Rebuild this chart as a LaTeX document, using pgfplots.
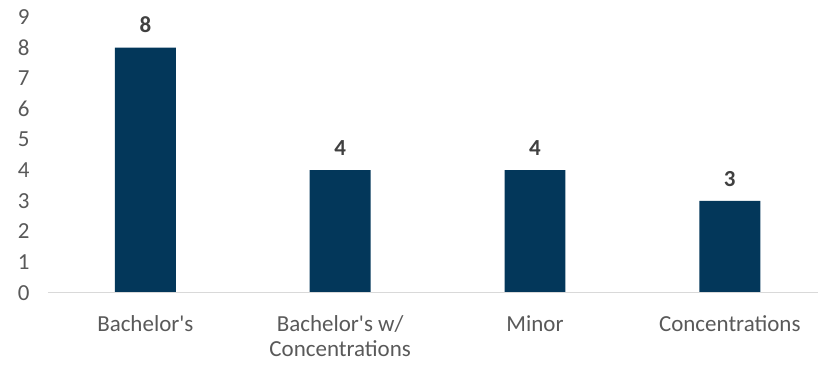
\documentclass[border=0pt]{standalone}
\usepackage{fontspec}
\setmainfont{Carlito}[Ligatures=TeXOff]
\usepackage{pgfplots}
\pgfplotsset{compat=1.18}
\definecolor{barblue}{HTML}{03375A}
\definecolor{ticktxt}{HTML}{595959}
\definecolor{lbltxt}{HTML}{404040}
\definecolor{axgray}{HTML}{D9D9D9}
\begin{document}
\begin{tikzpicture}
\begin{axis}[
  scale only axis,
  width=771pt, height=276pt,
  xmin=-0.5, xmax=3.454,
  ymin=0, ymax=9,
  ytick={0,1,...,9},
  xtick={0,1,2,3},
  xticklabels={Bachelor's,{Bachelor's w/\\Concentrations},Minor,Concentrations},
  axis line style={draw=none},
  axis x line*=bottom,
  axis y line*=left,
  major tick length=0pt,
  /pgf/number format/assume math mode=true,
  font=\fontsize{23}{25}\selectfont,
  ticklabel style={text=ticktxt, font=\fontsize{23}{25}\selectfont},
  xticklabel style={align=center, yshift=-19pt, font=\fontsize{23}{25.5}\selectfont},
  yticklabel style={xshift=-15pt},
  ybar, bar width=61pt,
  nodes near coords,
  every node near coord/.append style={text=lbltxt, font=\fontsize{23}{25}\selectfont\bfseries, yshift=11pt},
  clip=false,
]
\addplot[fill=barblue, draw=none] coordinates {(0,8) (1,4) (2,4) (3,3)};
\draw[axgray, line width=1.5pt] (axis cs:-0.5,0) -- (axis cs:3.454,0);
\end{axis}
\path[use as bounding box] (-48pt,-72pt) rectangle (771pt,293pt);
\end{tikzpicture}
\end{document}
